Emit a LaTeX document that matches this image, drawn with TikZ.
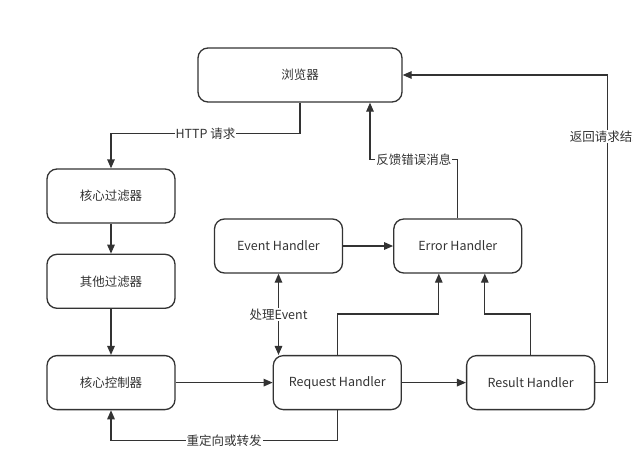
\documentclass[tikz,border=0pt]{standalone}
\usepackage{fontspec}
\setmainfont{Noto Sans CJK SC}
\usetikzlibrary{arrows.meta,positioning}
\definecolor{ink}{HTML}{333333}

\begin{document}
\begin{tikzpicture}[x=1pt,y=-1pt,>={Triangle[length=9pt,width=7.5pt]},line width=1.3pt,draw=ink,text=ink,
  main node/.style={draw,rounded corners=10pt,minimum width=128pt,minimum height=54pt,inner sep=0pt,font=\fontsize{12.5}{14}\selectfont},
  line label/.style={fill=white,inner sep=1pt,font=\fontsize{12.5}{14}\selectfont}]
    \useasboundingbox (0,0) rectangle (633,469);

    \node[main node,minimum width=204pt] (1) at (300,75) {浏览器};
    \node[main node] (2) at (111,196) {核心过滤器};
    \node[main node] (3) [below=30pt of 2] {其他过滤器};
    \node[main node] (4) [below=46pt of 3] {核心控制器};
    \node[main node] (5) [right=97pt of 4] {Request Handler};
    \node[main node] (6) [right=64pt of 5] {Result Handler};
    \node[main node] (7) at (278.5,246) {Event Handler};
    \node[main node] (8) [right=50pt of 7] {Error Handler};

    \path[->]
        (2) edge (3)
        (3) edge (4)
        (4) edge (5)
        (5) edge (6)
        (7) edge (8)
    ;

    \draw[->] (1.south) -- ++(0,31) -| node[pos=0.25,line label]{HTTP 请求} (2.north);
    \draw[->] (8.north) -- ++(0,-59) -| node[pos=0.25,line label]{反馈错误消息} ([xshift=70pt]1.south);
    \draw[->] (6.east) -- ++(12,0) |- node[pos=0.4,line label]{返回请求结果} (1.east);
    \draw[->] (5.north) -- ++(0,-41) -| ([xshift=-19pt]8.south);
    \draw[->] (6.north) -- ++(0,-41) -| ([xshift=27pt]8.south);
    \draw[<->] (7.south) -- node[line label]{处理Event} (7.south |- 5.north);
    \draw[->] (5.south) -- ++(0,30) -| node[pos=0.25,line label]{重定向或转发} (4.south);
\end{tikzpicture}
\end{document}
